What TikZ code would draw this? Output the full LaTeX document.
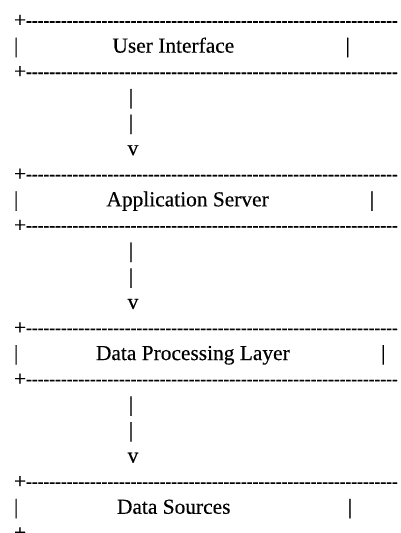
\documentclass[tikz,border=0pt]{standalone}
\usepackage{fontspec}
\usepackage{graphicx}
\newfontfamily\asciifont{Liberation Serif}[Ligatures=TeXOff,FakeBold=0.3]
% a run of separate hyphens (boxed so that no dash ligatures form)
\newcommand\hyphenrun{\scalebox{0.815}[1]{\foreach \k in {1,...,64}{\hbox{-}}}}
\begin{document}
\begin{tikzpicture}[x=1pt,y=-1pt,
  ascii/.style={font=\asciifont\fontsize{21.4}{25.6}\selectfont,
    inner sep=0pt, outer sep=0pt, anchor=base west, text=black},
  glyph/.style={ascii, anchor=base}]
\clip (0,0) rectangle (401,533);
\fill[white] (0,0) rectangle (401,533);

% --- User Interface box
\node[ascii] (t1) at (14,27) {+\hyphenrun};
\node[ascii] (l1) at (14,52.62) {|};
\node[ascii] (ui) at (112.5,52.62) {User Interface};
\node[glyph] (r1) at (347.7,52.62) {|};
\node[ascii] (u1) at (14,78.24) {+\hyphenrun};

% --- arrow 1
\node[glyph] (a1) at (131,103.86) {|};
\node[glyph] (a2) at (131,129.48) {|};
\node[glyph] (a3) at (133,155.1) {v};

% --- Application Server box
\node[ascii] (t2) at (14,180.72) {+\hyphenrun};
\node[ascii] (l2) at (14,206.34) {|};
\node[ascii] (as) at (106.5,206.34) {Application Server};
\node[glyph] (r2) at (372,206.34) {|};
\node[ascii] (u2) at (14,231.96) {+\hyphenrun};

% --- arrow 2
\node[glyph] (b1) at (131,257.58) {|};
\node[glyph] (b2) at (131,283.2) {|};
\node[glyph] (b3) at (133,308.82) {v};

% --- Data Processing Layer box
\node[ascii] (t3) at (14,334.44) {+\hyphenrun};
\node[ascii] (l3) at (14,360.06) {|};
\node[ascii] (dp) at (96,360.06) {Data Processing Layer};
\node[glyph] (r3) at (383.3,360.06) {|};
\node[ascii] (u3) at (14,385.68) {+\hyphenrun};

% --- arrow 3
\node[glyph] (c1) at (131,411.3) {|};
\node[glyph] (c2) at (131,436.92) {|};
\node[glyph] (c3) at (133,462.54) {v};

% --- Data Sources box
\node[ascii] (t4) at (14,488.16) {+\hyphenrun};
\node[ascii] (l4) at (14,513.78) {|};
\node[ascii] (ds) at (117,513.78) {Data Sources};
\node[glyph] (r4) at (350,513.78) {|};
\node[ascii] (u4) at (14,539.4) {+};
\end{tikzpicture}
\end{document}
